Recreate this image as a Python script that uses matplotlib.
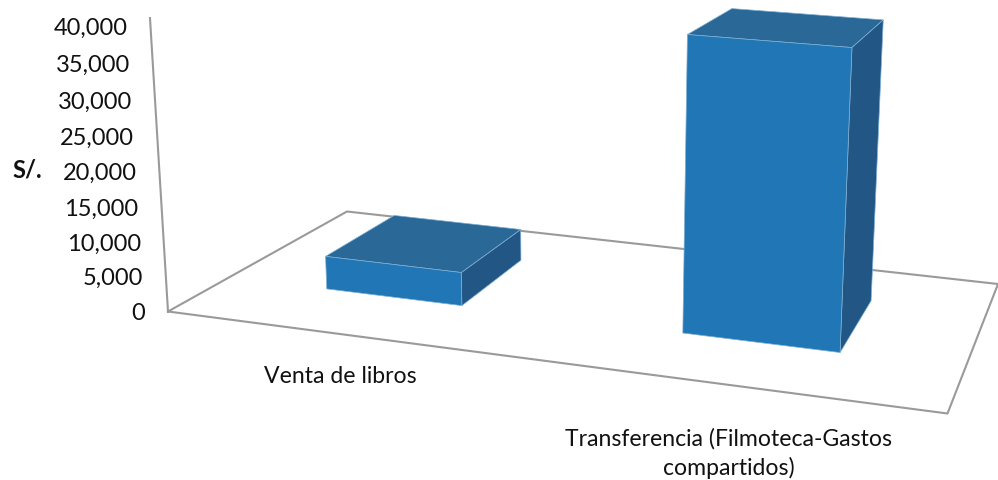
import numpy as np
import matplotlib
matplotlib.use('Agg')
import matplotlib.pyplot as plt
from matplotlib.transforms import Affine2D

W, H = 998, 480

categories = ['Venta de libros', 'Transferencia (Filmoteca-Gastos\ncompartidos)']
values = [4800, 40400]
ticks = [0, 5000, 10000, 15000, 20000, 25000, 30000, 35000, 40000]
z_max = 40000

bar_pos = [0.485, 1.487]
bar_width = [0.39, 0.406]
bar_front = 0.305
bar_depth = 0.423

front = '#2176B5'
top = '#2A6898'
side = '#225685'
edge = '#7FB0D4'
grey = '#9A9A9A'
none = (0, 0, 0, 0)

plt.rcParams['font.family'] = ['Lato', 'DejaVu Sans']

# pixel positions of the floor corners and the vertical vanishing point
floor_px = [(168, 311.5), (947.5, 413.5), (998, 284), (347, 211.5)]
floor_uv = [(0, 0), (2, 0), (2, 1), (0, 1)]
vanish = np.array([580, 7024, 1.0])
axis_top_y = 18


def floor_homography():
    rows, rhs = [], []
    for (u, v), (x, y) in zip(floor_uv, floor_px):
        rows.append([u, v, 1, 0, 0, 0, -u * x, -v * x])
        rows.append([0, 0, 0, u, v, 1, -u * y, -v * y])
        rhs += [x, y]
    return np.append(np.linalg.solve(rows, rhs), 1).reshape(3, 3)


h = floor_homography()
t = (h[1, 2] - axis_top_y * h[2, 2]) / (axis_top_y * vanish[2] - vanish[1])
zcol = t * vanish / z_max

M = np.array([
    [h[0, 0], h[0, 1], zcol[0], h[0, 2]],
    [h[1, 0], h[1, 1], zcol[1], h[1, 2]],
    [0, 1, 0, 0],
    [h[2, 0], h[2, 1], zcol[2], h[2, 2]],
])


def project(x, y, z):
    p = M @ np.array([x, y, z, 1.0])
    return p[0] / p[3], p[1] / p[3]


fig = plt.figure(figsize=(W / 100, H / 100), dpi=100)
ax = fig.add_axes([0, 0, 1, 1], projection='3d')
ax.set_axis_off()
ax.set_proj_type('ortho')  # turns off the clip to -1..1, M gives pixels
ax.computed_zorder = False
ax.get_proj = lambda: M
ax.apply_aspect = lambda position=None: None
ax.transData = Affine2D().scale(1, -1).translate(0, H)

ax.plot([0, 0], [0, 0], [0, z_max], color=grey, lw=1.5, zorder=1)
ax.plot([0, 2, 2, 0, 0], [0, 0, 1, 1, 0], [0, 0, 0, 0, 0], color=grey, lw=1.5, zorder=1)

# bar3d faces: bottom, top, front, back, left, right
faces = [none, top, front, none, none, side]
edges = [none, edge, edge, none, none, edge]
for pos, wid, val in zip(bar_pos, bar_width, values):
    ax.bar3d(pos - wid / 2, bar_front, 0, wid, bar_depth, val,
             color=faces, edgecolor=edges, linewidth=0.5, shade=False, zorder=2)

for tk in ticks:
    px, py = project(0, 0, tk * 0.97)
    fig.text((px - 23) / W, 1 - (py + 1.5) / H, f'{tk:,}', ha='right', va='center', fontsize=17, color='#111111')

fig.text(27 / W, 1 - 170 / H, 'S/.', ha='center', va='center', fontsize=17, fontweight='bold', color='#111111')

for pos, name, pad in zip([0.49, 1.49], categories, [32, 43]):
    px, py = project(pos, 0, 0)
    fig.text((px - 2) / W, 1 - (py + pad) / H, name, ha='center', va='top', fontsize=16.6, color='#111111', linespacing=1.42)

fig.savefig('out.png', dpi=100)
